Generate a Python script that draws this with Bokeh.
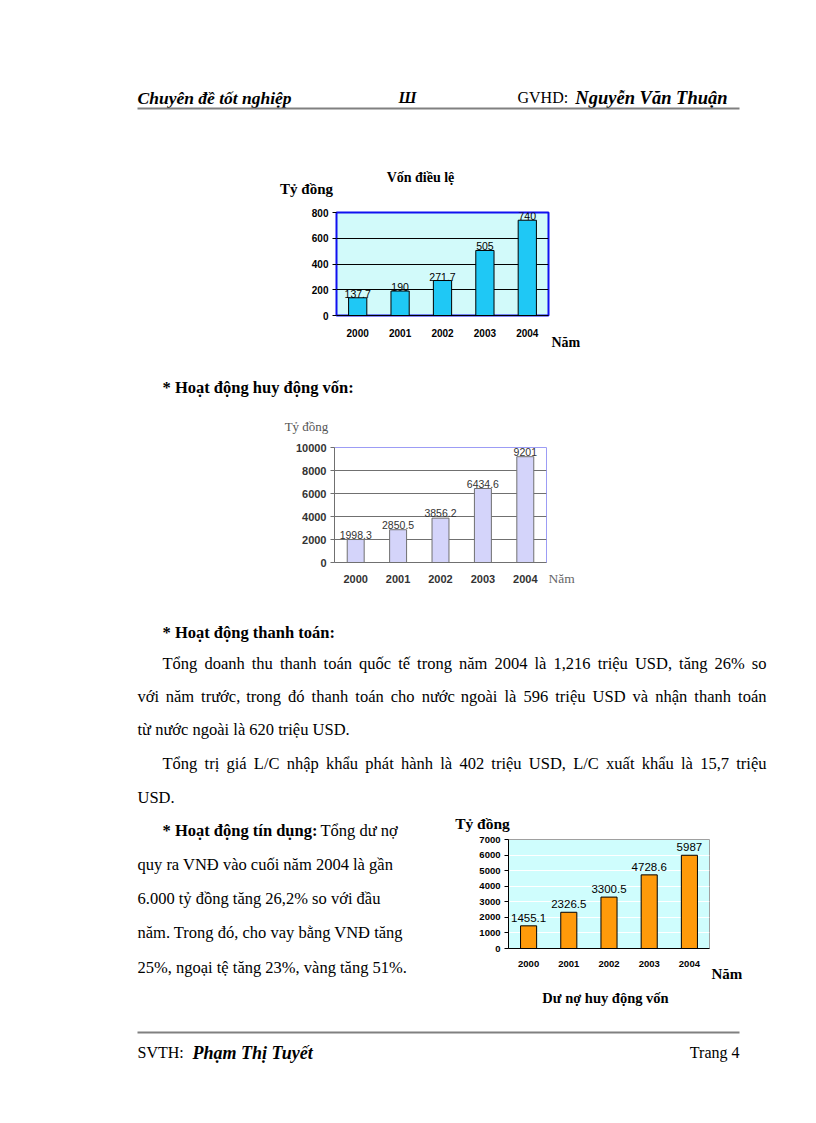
import unicodedata
from bokeh.plotting import figure
from bokeh.models import (Range1d, FactorRange, FixedTicker, ColumnDataSource, LabelSet,
                          Spacer)
from bokeh.layouts import column, row
from bokeh.core.properties import value
from bokeh.embed import file_html
from bokeh.resources import INLINE

# ---------------- data ----------------
years = ["2000", "2001", "2002", "2003", "2004"]
von_dieu_le = [137.7, 190, 271.7, 505, 740]            # Vốn điều lệ (tỷ đồng)
huy_dong_von = [1998.3, 2850.5, 3856.2, 6434.6, 9201]  # Hoạt động huy động vốn
du_no = [1455.1, 2326.5, 3300.5, 4728.6, 5987]         # Dư nợ huy động vốn

header_left = "Chuyên đề tốt nghiệp"
header_mid = "Ш"
header_gvhd = "GVHD:"
header_name = "Nguyễn Văn Thuận"
footer_left = "SVTH:"
footer_name = "Phạm Thị Tuyết"
footer_right = "Trang 4"

title_c1 = "Vốn điều lệ"
title_c3 = "Dư nợ huy động vốn"
unit_label = "Tỷ đồng"
year_label = "Năm"

heading_huy_dong = "* Hoạt động huy động vốn:"
heading_thanh_toan = "* Hoạt động thanh toán:"
para_thanh_toan = [
    "Tổng doanh thu thanh toán quốc tế trong năm 2004 là 1,216 triệu USD, tăng 26% so",
    "với năm trước, trong đó thanh toán cho nước ngoài là 596 triệu USD và nhận thanh toán",
    "từ nước ngoài là 620 triệu USD.",
]
para_lc = [
    "Tổng trị giá L/C nhập khẩu phát hành là 402 triệu USD, L/C xuất khẩu là 15,7 triệu",
    "USD.",
]
heading_tin_dung = "* Hoạt động tín dụng:"
para_tin_dung = [
    "Tổng dư nợ",
    "quy ra VNĐ vào cuối năm 2004 là gần",
    "6.000 tỷ đồng tăng 26,2% so với đầu",
    "năm. Trong đó, cho vay bằng VNĐ tăng",
    "25%, ngoại tệ tăng 23%, vàng tăng 51%.",
]

SERIF = "Liberation Serif"
SANS = "Liberation Sans"
BODY = "16.5px"

# Times metrics (Liberation Serif is metric compatible), per 1000 em
TW = {" ": 250, "%": 833, "*": 500, ",": 250, ".": 250, "/": 278, ":": 278,
      "A": 722, "B": 667, "C": 667, "D": 722, "E": 611, "F": 556, "G": 722, "H": 722,
      "I": 333, "J": 389, "K": 722, "L": 611, "M": 889, "N": 722, "O": 722, "P": 556,
      "Q": 722, "R": 667, "S": 556, "T": 611, "U": 722, "V": 722, "W": 944, "X": 722,
      "Y": 722, "Z": 611, "a": 444, "b": 500, "c": 444, "d": 500, "e": 444, "f": 333,
      "g": 500, "h": 500, "i": 278, "j": 278, "k": 500, "l": 278, "m": 778, "n": 500,
      "o": 500, "p": 500, "q": 500, "r": 333, "s": 389, "t": 278, "u": 500, "v": 500,
      "w": 722, "x": 500, "y": 500, "z": 444, "đ": 500, "Đ": 722}


def text_width(s, px):
    tot = 0
    for ch in s:
        base = ch if ch in TW else unicodedata.normalize("NFD", ch)[0]
        tot += TW.get(base, 500)
    return tot / 1000.0 * px


def fmt(v):
    return "%g" % v


def no_align(p):
    if "frame_align" in p.properties():
        p.frame_align = False
    return p


def page_fig(x0, y0, w, h):
    p = figure(width=w, height=h, x_range=Range1d(x0, x0 + w), y_range=Range1d(y0 + h, y0),
               x_axis_type=None, y_axis_type=None, toolbar_location=None,
               output_backend="svg", min_border=0, title=None)
    p.outline_line_color = None
    return no_align(p)


def txt(p, x, y, s, size=BODY, style="normal", font=SERIF, align="left", color="black"):
    p.text(x=[x], y=[y], text=[s], text_font=value(font), text_font_size=size,
           text_font_style=style, text_align=align, text_baseline="middle",
           text_color=color)


def justified(p, x_left, x_right, y, line, size=16.5):
    words = line.split()
    ws = [text_width(w, size) for w in words]
    gap = (x_right - x_left - sum(ws)) / (len(words) - 1)
    xs, x = [], x_left
    for w in ws:
        xs.append(x)
        x += w + gap
    p.text(x=xs, y=[y] * len(words), text=words, text_font=value(SERIF),
           text_font_size="%gpx" % size, text_align="left", text_baseline="middle",
           text_color="black")


def bar_chart(vals, ymax, ystep, width, height, fl, fr, ft, fb, bar_color, bar_line,
              bar_w, bg, outline, outline_w, yaxis_color, xaxis_color, grid_color,
              tick_size, tick_color, x_standoff, lab_size, lab_color, lab_offset):
    p = figure(x_range=FactorRange(factors=years), y_range=Range1d(0, ymax),
               width=width, height=height, toolbar_location=None,
               output_backend="svg", title=None,
               min_border_left=fl, min_border_right=fr,
               min_border_top=ft, min_border_bottom=fb)
    no_align(p)
    p.background_fill_color = bg
    p.border_fill_color = "white"
    p.outline_line_color = outline
    p.outline_line_width = outline_w
    src = ColumnDataSource(dict(x=years, top=vals, label=[fmt(v) for v in vals]))
    p.vbar(x="x", top="top", width=bar_w, source=src, fill_color=bar_color,
           line_color=bar_line, line_width=1)
    p.add_layout(LabelSet(x="x", y="top", text="label", source=src,
                          text_font=value(SANS), text_font_size=lab_size,
                          text_color=lab_color, text_align="center",
                          text_baseline="bottom", y_offset=lab_offset))
    p.xgrid.visible = False
    p.ygrid.ticker = FixedTicker(ticks=list(range(ystep, ymax, ystep)))
    p.ygrid.grid_line_color = grid_color
    p.ygrid.grid_line_width = 1
    p.yaxis.ticker = FixedTicker(ticks=list(range(0, ymax + 1, ystep)))
    p.yaxis.minor_tick_line_color = None
    p.yaxis.major_tick_in = 0
    p.yaxis.major_tick_out = 4
    p.yaxis.major_label_standoff = 4
    p.yaxis.axis_line_color = yaxis_color
    p.yaxis.major_tick_line_color = xaxis_color
    p.yaxis.major_label_text_font = SANS
    p.yaxis.major_label_text_font_style = "bold"
    p.yaxis.major_label_text_font_size = tick_size
    p.yaxis.major_label_text_color = tick_color
    p.xaxis.axis_line_color = xaxis_color
    p.xaxis.major_tick_line_color = None
    p.xaxis.major_tick_in = 0
    p.xaxis.major_tick_out = 0
    p.xaxis.major_label_standoff = x_standoff
    p.xaxis.major_label_text_font = SANS
    p.xaxis.major_label_text_font_style = "bold"
    p.xaxis.major_label_text_font_size = tick_size
    p.xaxis.major_label_text_color = tick_color
    return p


# ---------------- header + chart 1 titles (page y 0..200) ----------------
hdr = page_fig(0, 0, 800, 200)
txt(hdr, 137, 97, header_left, size="17.5px", style="bold italic")
txt(hdr, 407, 97, header_mid, size="16px", style="bold italic", align="center")
txt(hdr, 517, 97, header_gvhd, size="16px")
txt(hdr, 727, 97, header_name, size="18.5px", style="bold italic", align="right")
hdr.line(x=[137, 739], y=[108, 108], line_color="#808080", line_width=2)
txt(hdr, 420, 177, title_c1, size="14px", style="bold", align="center")
txt(hdr, 306, 188, unit_label, size="15px", style="bold", align="center")

# ---------------- chart 1 row (page y 200..352) ----------------
c1 = bar_chart(von_dieu_le, 800, 200, 282, 152, 68, 2, 12, 37,
               bar_color="#1FC8F5", bar_line="black", bar_w=0.43, bg="#D2FAFA",
               outline="#1010F0", outline_w=2, yaxis_color="#1010F0",
               xaxis_color="black", grid_color="black", tick_size="10px",
               tick_color="black", x_standoff=13, lab_size="10.5px",
               lab_color="black", lab_offset=0)
r1 = page_fig(550, 200, 250, 152)
txt(r1, 551, 342, year_label, size="14px", style="bold")

# ---------------- heading + chart 2 unit (page y 352..436) ----------------
t1 = page_fig(0, 352, 800, 84)
txt(t1, 162, 387, heading_huy_dong, style="bold")
txt(t1, 306, 426, unit_label, size="13px", color="#555555", align="center")

# ---------------- chart 2 row (page y 436..595) ----------------
c2 = bar_chart(huy_dong_von, 10000, 2000, 277, 159, 64, 1, 11, 33,
               bar_color="#D4D4FA", bar_line="#707070", bar_w=0.4, bg="white",
               outline="#9C9CF5", outline_w=1, yaxis_color="#707070",
               xaxis_color="#707070", grid_color="#707070", tick_size="11px",
               tick_color="#333333", x_standoff=12, lab_size="10.5px",
               lab_color="#333333", lab_offset=1)
r2 = page_fig(547, 436, 253, 159)
txt(r2, 548, 578, year_label, size="13.5px", color="#666666")

# ---------------- paragraphs (page y 595..812) ----------------
t2 = page_fig(0, 595, 800, 217)
txt(t2, 162, 632, heading_thanh_toan, style="bold")
justified(t2, 162, 766, 663, para_thanh_toan[0])
justified(t2, 137, 766, 696, para_thanh_toan[1])
txt(t2, 137, 729, para_thanh_toan[2])
justified(t2, 162, 766, 763, para_lc[0])
txt(t2, 137, 797, para_lc[1])

# ---------------- credit text + chart 3 (page y 812..1012) ----------------
t3 = page_fig(0, 812, 440, 200)
txt(t3, 162, 830, heading_tin_dung, style="bold")
txt(t3, 320, 830, para_tin_dung[0])
txt(t3, 137, 864, para_tin_dung[1])
txt(t3, 137, 898, para_tin_dung[2])
txt(t3, 137, 932, para_tin_dung[3])
txt(t3, 137, 967, para_tin_dung[4])

a3 = page_fig(440, 812, 360, 21)
txt(a3, 482, 823, unit_label, size="15.5px", style="bold", align="center")

c3 = bar_chart(du_no, 7000, 1000, 270, 152, 68, 1, 6, 37,
               bar_color="#FF9A0A", bar_line="black", bar_w=0.4, bg="#CFFDFD",
               outline="#A0A0A0", outline_w=1, yaxis_color="black",
               xaxis_color="black", grid_color="white", tick_size="9.5px",
               tick_color="black", x_standoff=12, lab_size="11.5px",
               lab_color="black", lab_offset=4)
r3 = page_fig(710, 833, 90, 152)
txt(r3, 711, 973, year_label, size="15px", style="bold")

b3 = page_fig(440, 985, 360, 27)
txt(b3, 605, 997, title_c3, size="14.5px", style="bold", align="center")

# ---------------- footer (page y 1012..1112) ----------------
ftr = page_fig(0, 1012, 800, 100)
ftr.line(x=[137, 739], y=[1032, 1032], line_color="#808080", line_width=2)
txt(ftr, 137, 1052, footer_left, size="16px")
txt(ftr, 192, 1052, footer_name, size="18px", style="bold italic")
txt(ftr, 739, 1052, footer_right, size="16px", align="right")

page = column(
    hdr,
    row(Spacer(width=268, height=152), c1, r1),
    t1,
    row(Spacer(width=270, height=159), c2, r2),
    t2,
    row(t3, column(a3, row(c3, r3), b3)),
    ftr,
)

open("out.html", "w").write(file_html(page, INLINE))
